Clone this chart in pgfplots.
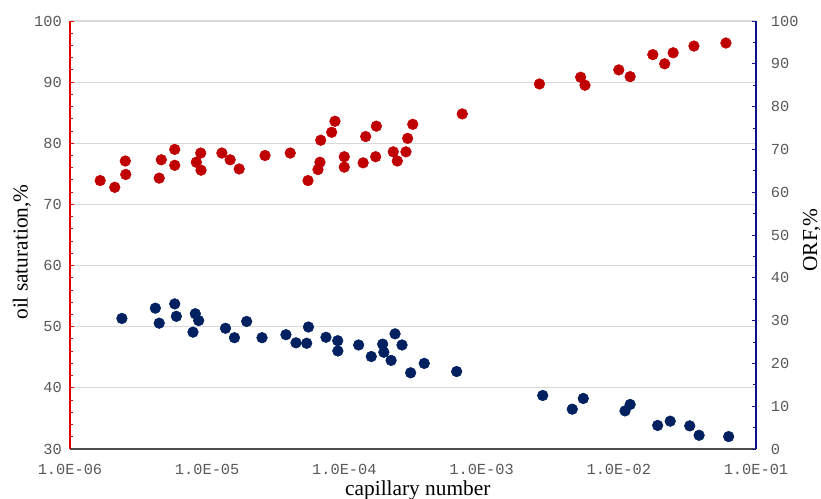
\documentclass[border=0pt]{standalone}
\usepackage{pgfplots}
\pgfplotsset{compat=1.18}
\usepackage{fontspec}
\setmainfont{Liberation Serif}
\newfontfamily\monofont{Liberation Mono}
\definecolor{redpt}{HTML}{C00000}
\definecolor{bluept}{HTML}{002060}
\definecolor{redaxis}{HTML}{E00000}
\definecolor{blueaxis}{HTML}{10108A}
\definecolor{ticklab}{HTML}{595959}
\definecolor{gridc}{HTML}{D9D9D9}
\begin{document}
\begin{tikzpicture}
\begin{axis}[name=ax,
  scale only axis, width=514.5pt, height=321pt,
  xmode=log, xmin=1e-6, xmax=1e-1,
  /pgf/number format/assume math mode=true,
  tick label style={font=\monofont\fontsize{11.5}{12}\selectfont, text=ticklab},
  tick align=inside,
  major tick length=3pt, minor tick length=2.2pt,
  axis y line*=left, axis x line*=bottom,
  ymin=30, ymax=100, ytick={30,40,...,100}, minor y tick num=4,
  ymajorgrids, grid style={gridc, line width=0.8pt},
  xtick={1e-6,1e-5,1e-4,1e-3,1e-2,1e-1},
  xticklabels={1.0E-06,1.0E-05,1.0E-04,1.0E-03,1.0E-02,1.0E-01},
  xminorticks=false,
  xtick style={draw=none},
  xticklabel style={anchor=center, yshift=-15pt},
  yticklabel style={anchor=east, inner sep=0pt, xshift=-6pt},
  y axis line style={draw=redaxis, line width=0.9pt, -},
  ytick style={draw=redaxis, line width=0.7pt},
  x axis line style={draw=black!70, line width=0.9pt, -},
  xlabel={capillary number},
  ylabel={oil saturation,\%},
  label style={font=\fontsize{16}{18}\selectfont},
  xlabel style={at={(axis description cs:0.507,-0.096)}, anchor=center},
  ylabel style={at={(axis description cs:-0.07,0.46)}, anchor=center},
  clip=false,
]
\addplot[only marks, mark=*, mark size=4pt, mark options={fill=redpt, draw=redpt}] coordinates {
(1.66e-6,73.9) (2.12e-6,72.8) (2.53e-6,77.1) (2.55e-6,74.9) (4.47e-6,74.3)
(4.63e-6,77.3) (5.80e-6,79.0) (5.80e-6,76.4) (8.33e-6,76.9) (8.97e-6,78.4)
(9.02e-6,75.6) (1.28e-5,78.4) (1.47e-5,77.3) (1.71e-5,75.8) (2.64e-5,78.0)
(4.03e-5,78.4) (5.43e-5,73.9) (6.42e-5,75.7) (6.64e-5,76.9) (6.72e-5,80.5)
(8.08e-5,81.8) (8.54e-5,83.6) (9.98e-5,77.8) (9.98e-5,76.1) (1.37e-4,76.8)
(1.43e-4,81.1) (1.69e-4,77.8) (1.71e-4,82.8) (2.27e-4,78.6) (2.43e-4,77.1)
(2.81e-4,78.6) (2.89e-4,80.8) (3.15e-4,83.1) (7.23e-4,84.8) (2.64e-3,89.7)
(5.27e-3,90.8) (5.67e-3,89.5) (1.00e-2,92.0) (1.21e-2,90.9) (1.77e-2,94.5)
(2.16e-2,93.0) (2.49e-2,94.8) (3.53e-2,95.9) (6.04e-2,96.4)
};
\end{axis}
\begin{axis}[
  scale only axis, width=514.5pt, height=321pt,
  xmode=log, xmin=1e-6, xmax=1e-1,
  /pgf/number format/assume math mode=true,
  tick label style={font=\monofont\fontsize{11.5}{12}\selectfont, text=ticklab},
  tick align=inside,
  major tick length=3pt, minor tick length=2.2pt,
  axis y line*=right, axis x line=none,
  ymin=0, ymax=100, ytick={0,10,...,100}, minor y tick num=1,
  yticklabel style={anchor=west, inner sep=0pt, xshift=11pt},
  y axis line style={draw=blueaxis, line width=0.9pt, -},
  ytick style={draw=blueaxis, line width=0.7pt},
  ylabel={ORF,\%},
  ylabel style={font=\fontsize{16}{18}\selectfont, at={(axis description cs:1.081,0.488)}, anchor=center},
  clip=false,
]
\addplot[only marks, mark=*, mark size=4pt, mark options={fill=bluept, draw=bluept}] coordinates {
(2.39e-6,30.5) (4.19e-6,32.9) (4.47e-6,29.4) (5.80e-6,33.9) (5.96e-6,31.0)
(7.88e-6,27.3) (8.19e-6,31.6) (8.67e-6,30.0) (1.36e-5,28.2) (1.58e-5,26.0)
(1.94e-5,29.8) (2.51e-5,26.0) (3.75e-5,26.7) (4.44e-5,24.8) (5.31e-5,24.7)
(5.47e-5,28.5) (7.34e-5,26.1) (8.94e-5,25.3) (8.96e-5,22.9) (1.27e-4,24.3)
(1.57e-4,21.6) (1.90e-4,24.5) (1.94e-4,22.6) (2.19e-4,20.7) (2.34e-4,26.9)
(2.63e-4,24.3) (3.04e-4,17.8) (3.82e-4,20.0) (6.58e-4,18.1) (2.79e-3,12.5)
(4.58e-3,9.3) (5.51e-3,11.8) (1.11e-2,8.9) (1.21e-2,10.4) (1.92e-2,5.5)
(2.37e-2,6.5) (3.29e-2,5.4) (3.85e-2,3.2) (6.32e-2,2.9)
};
\end{axis}
\pgfresetboundingbox
\path[use as bounding box] ([shift={(-52.5pt,-37.5pt)}]ax.south west) rectangle ([shift={(48.75pt,15.75pt)}]ax.north east);
\end{tikzpicture}
\end{document}
